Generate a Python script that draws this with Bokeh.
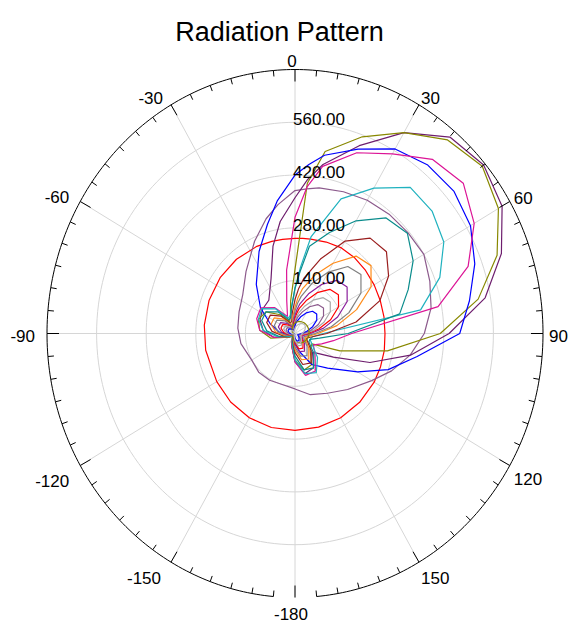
import math
from bokeh.plotting import figure
from bokeh.models import Range1d
from bokeh.core.properties import value
from bokeh.embed import file_html
from bokeh.resources import INLINE

# ---------------- data ----------------
TITLE = "Radiation Pattern"

# sample angles (degrees, 0 = up, clockwise positive)
ANGLES = [-120, -100, -85, -70, -55, -40, -25, -15, -8, 0, 5, 10, 20, 30, 40, 50,
          60, 70, 80, 90, 100, 110, 120, 135, 150, 165, 180, 195, 210, 225]

red_big = [255, 256, 257, 258, 258, 257, 255, 253, 252, 252, 253, 254, 258, 262, 262,
           260, 258, 256, 255, 254, 256, 257, 258, 258, 258, 257, 257, 258, 258, 257]
mauve_big = [141, 155, 162, 168, 180, 215, 270, 315, 345, 379, 385, 392, 400, 408, 413,
             416, 420, 405, 390, 365, 330, 290, 250, 210, 183, 168, 147, 140, 143, 145]
dark_purple = [20, 60, 90, 105, 112, 115, 160, 240, 300, 360, 410, 455, 530, 615, 680,
               695, 675, 620, 545, 435, 331, 225, 125, 70, 105, 110, 75, 35, 15, 10]
olive = [20, 70, 100, 110, 100, 65, 35, 50, 88, 170, 400, 490, 555, 615, 670,
         690, 663, 607, 525, 410, 265, 135, 55, 60, 95, 100, 70, 35, 15, 10]
blue = [10, 20, 45, 74, 119, 170, 240, 300, 356, 420, 450, 480, 520, 565, 583,
        586, 572, 540, 500, 465, 350, 280, 204, 130, 95, 50, 25, 15, 10, 10]
magenta = [15, 60, 100, 115, 118, 90, 50, 90, 170, 308, 390, 450, 510, 550, 603,
           620, 584, 520, 410, 160, 110, 80, 60, 80, 115, 115, 75, 35, 15, 10]
cyan = [15, 50, 90, 110, 115, 85, 45, 50, 70, 120, 176, 260, 380, 445, 506,
        505, 485, 435, 360, 80, 50, 45, 55, 90, 120, 110, 70, 30, 15, 10]
teal = [10, 45, 80, 100, 100, 75, 40, 45, 70, 120, 165, 235, 285, 345, 400,
        414, 385, 340, 300, 150, 70, 45, 45, 75, 105, 100, 60, 25, 12, 8]
maroon = [8, 35, 65, 85, 85, 60, 30, 35, 55, 90, 120, 150, 210, 283, 330,
          337, 305, 255, 175, 90, 50, 35, 40, 65, 90, 85, 50, 20, 10, 6]
orange = [6, 30, 55, 72, 72, 50, 25, 28, 45, 70, 95, 120, 165, 215, 268,
          280, 248, 185, 120, 65, 40, 30, 35, 55, 78, 72, 42, 18, 8, 5]
gray = [5, 26, 48, 62, 62, 44, 22, 24, 38, 60, 80, 100, 142, 188, 232,
        243, 215, 162, 104, 56, 34, 26, 30, 48, 68, 62, 36, 15, 7, 4]
purple = [4, 20, 38, 50, 50, 35, 18, 19, 30, 48, 64, 80, 112, 150, 184,
          192, 170, 128, 82, 44, 27, 21, 24, 38, 54, 50, 29, 12, 5, 3]
red_small = [3, 17, 32, 42, 42, 29, 15, 16, 25, 40, 53, 67, 93, 125, 153,
             160, 142, 107, 68, 37, 22, 17, 20, 32, 45, 42, 24, 10, 4, 3]
silver = [3, 14, 26, 34, 34, 24, 12, 13, 20, 32, 43, 54, 76, 102, 124,
          130, 115, 87, 56, 30, 18, 14, 16, 26, 36, 34, 20, 8, 4, 2]
mauve_small = [2, 11, 21, 27, 27, 19, 10, 10, 16, 26, 35, 44, 61, 82, 100,
               105, 93, 70, 45, 24, 15, 11, 13, 21, 29, 27, 16, 7, 3, 2]
blue_small = [2, 8, 16, 21, 21, 15, 8, 8, 12, 20, 27, 33, 47, 63, 77,
              80, 71, 53, 34, 18, 11, 8, 10, 16, 22, 21, 12, 5, 2, 2]
olive_small = [6, 5, 5, 6, 9, 13, 18, 22, 25, 28, 30, 31, 34, 36, 38,
               39, 40, 40, 40, 40, 39, 38, 36, 33, 29, 25, 21, 16, 11, 8]
silver_small = [2, 6, 10, 12, 12, 9, 6, 7, 10, 14, 17, 20, 25, 30, 34,
                36, 34, 30, 25, 20, 18, 18, 20, 26, 30, 28, 18, 8, 4, 2]

SERIES = [
    (red_big, "#FF0000"),
    (mauve_big, "#8C5A8C"),
    (dark_purple, "#6E1E6E"),
    (olive, "#888800"),
    (blue, "#0000FF"),
    (magenta, "#DC1496"),
    (cyan, "#20B2BF"),
    (teal, "#0A8C8C"),
    (maroon, "#9A1E1E"),
    (orange, "#FF8C1A"),
    (gray, "#808080"),
    (purple, "#8B1E9B"),
    (red_small, "#FF0000"),
    (silver, "#A8A8A8"),
    (mauve_small, "#8C5A8C"),
    (blue_small, "#0000FF"),
    (olive_small, "#888800"),
    (silver_small, "#B8B8B8"),
]

RING_VALUES = [140, 280, 420, 560]
RING_LABELS = ["140.00", "280.00", "420.00", "560.00"]
R_MAX = 700
SPOKE_ANGLES = [0, 30, 60, 90, 120, 150, 180, 210, 240, 270, 300, 330]
ANGLE_TICKS = [0, 30, 60, 90, 120, 150, 180, -150, -120, -90, -60, -30]
ANGLE_LABELS = ["0", "30", "60", "90", "120", "150", "-180", "-150", "-120", "-90", "-60", "-30"]

# ---------------- layout / style ----------------
W, H = 568, 626
CX, CY = 294.5, 333.0          # canvas position of the pole
SX, SY = 248.0 / R_MAX, 264.0 / R_MAX   # px per data unit
FONT = "Liberation Sans"
GRID_COLOR = "#D6D6D6"

# (align, baseline, x_offset, y_offset) for each angle label
LABEL_STYLE = {
    0: ("center", "bottom", -3, -3),
    30: ("left", "bottom", 2, -1),
    60: ("left", "bottom", 4, 2),
    90: ("left", "middle", 6, 2),
    120: ("left", "top", 4, 7),
    150: ("left", "top", 2, 10),
    180: ("center", "top", -4, 10),
    -150: ("right", "top", -10, 10),
    -120: ("right", "top", -11, 9),
    -90: ("right", "middle", -12, 2),
    -60: ("right", "bottom", -11, 1),
    -30: ("right", "bottom", -8, -1),
}


def polar(rs, angs):
    xs = [r * math.sin(math.radians(a)) for r, a in zip(rs, angs)]
    ys = [r * math.cos(math.radians(a)) for r, a in zip(rs, angs)]
    return xs, ys


p = figure(width=W, height=H, output_backend="svg", toolbar_location=None,
           x_range=Range1d(-CX / SX, (W - CX) / SX),
           y_range=Range1d(-(H - CY) / SY, CY / SY),
           x_axis_location=None, y_axis_location=None, min_border=0)
p.xgrid.visible = False
p.ygrid.visible = False
p.outline_line_color = None
p.background_fill_color = "white"
p.border_fill_color = "white"

# grid rings
dense = list(range(0, 361, 2))
for rv in RING_VALUES:
    xs, ys = polar([rv] * len(dense), dense)
    p.line(xs, ys, line_color=GRID_COLOR, line_width=1)

# spokes
sx1, sy1 = polar([R_MAX] * len(SPOKE_ANGLES), SPOKE_ANGLES)
p.segment(x0=[0] * len(SPOKE_ANGLES), y0=[0] * len(SPOKE_ANGLES), x1=sx1, y1=sy1,
          line_color=GRID_COLOR, line_width=1)

# curves
closed_angles = ANGLES + [ANGLES[0] + 360]
for rs, col in SERIES:
    xs, ys = polar(rs + [rs[0]], closed_angles)
    p.line(xs, ys, line_color=col, line_width=1.2)

# outer ring (open at the bottom between 175 and 185 deg)
arc = list(range(-175, 176, 1))
ox, oy = polar([R_MAX] * len(arc), arc)
p.line(ox, oy, line_color="black", line_width=1)

# ticks every 5 degrees, longer every 30
t0x, t0y, t1x, t1y = [], [], [], []
for a in range(-175, 181, 5):
    L = 12 if a % 30 == 0 else 6
    s, c = math.sin(math.radians(a)), math.cos(math.radians(a))
    t0x.append(R_MAX * s)
    t0y.append(R_MAX * c)
    t1x.append(R_MAX * s - L * s / SX)
    t1y.append(R_MAX * c - L * c / SY)
p.segment(x0=t0x, y0=t0y, x1=t1x, y1=t1y, line_color="black", line_width=1)

# angle labels
for ang, lab in zip(ANGLE_TICKS, ANGLE_LABELS):
    al, bl, dx, dy = LABEL_STYLE[ang]
    lx, ly = polar([R_MAX], [ang])
    p.text(x=lx, y=ly, text=[lab], text_font=value(FONT), text_font_size="17px",
           text_color="black", text_align=al, text_baseline=bl,
           x_offset=dx, y_offset=dy)

# radial labels
for rv, lab in zip(RING_VALUES, RING_LABELS):
    p.text(x=[0], y=[rv], text=[lab], text_font=value(FONT), text_font_size="17px",
           text_color="black", text_align="left", text_baseline="alphabetic",
           x_offset=-2, y_offset=-3)

# title
p.text(x=[(279 - CX) / SX], y=[(CY - 31.7) / SY], text=[TITLE],
       text_font=value(FONT), text_font_size="27px", text_color="black",
       text_align="center", text_baseline="alphabetic")

open("out.html", "w").write(file_html(p, INLINE))
